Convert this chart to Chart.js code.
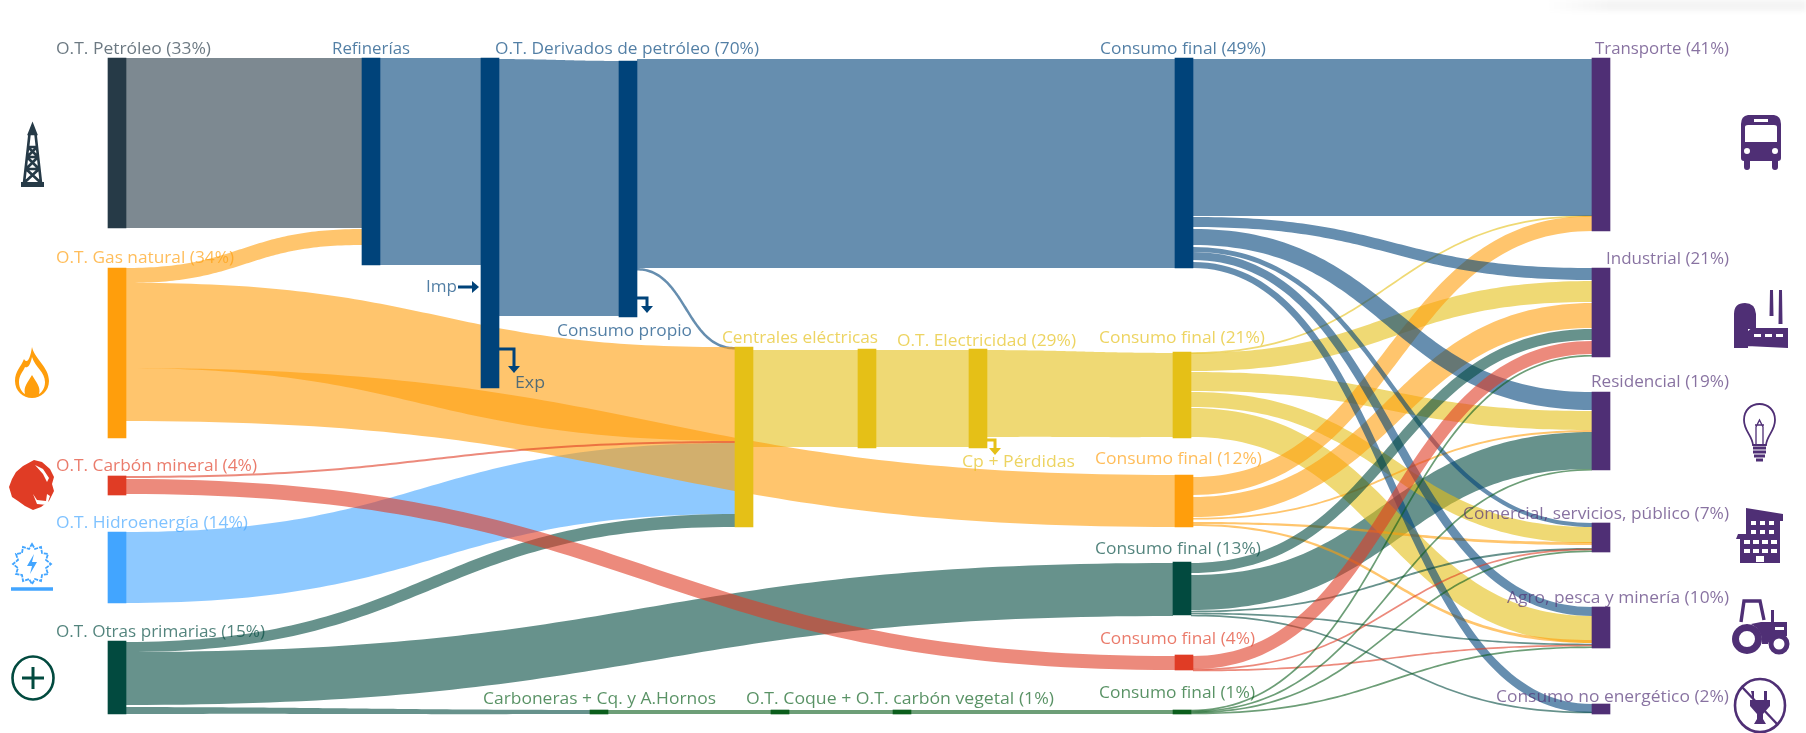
<!DOCTYPE html>
<html lang="es"><head><meta charset="utf-8">
<style>
html,body{margin:0;padding:0;background:#fff;width:1806px;height:733px;overflow:hidden}
#wrap{position:absolute;left:0;top:0;width:1806px;height:733px;filter:blur(.75px)}
canvas{position:absolute;left:0;top:0}
svg{position:absolute;overflow:visible}
#shade{position:absolute;left:1545px;top:0;width:261px;height:11px;background:linear-gradient(90deg,#fff,#f4f4f4 25%,#f4f4f4);filter:blur(2px)}
</style>
<script src="https://cdn.jsdelivr.net/npm/chart.js@4"></script>
</head><body>
<div id="wrap">
<div id="shade"></div>
<canvas id="c" width="1806" height="733"></canvas>
<!-- derrick -->
<svg style="left:21px;top:125px" width="23" height="63" viewBox="0 0 23 63" fill="none" stroke="#263A47" stroke-width="2.6"><path d="M11.5 0L15 9H8Z" fill="#263A47"/><path d="M8.5 9L3 58M14.5 9L20 58M7 22H16M6 32H17M5 44H18M7 22L17 32M16 22L6 32M6 32L18 44M17 32L5 44M5 44L19 57M18 44L4 57"/><rect x="0" y="57" width="23" height="5" fill="#263A47" stroke="none"/></svg>
<!-- flame -->
<svg style="left:15px;top:347px" width="34" height="51" viewBox="0 0 34 51"><path fill="#FF9E0C" fill-rule="evenodd" d="M17 0C19 11 34 20 34 34C34 44 26 51 17 51C8 51 0 44 0 34C0 24 6 20 9 12C12 17 15 13 17 0ZM17 10C15 20 12 21 10 20C8 25 4 28 4 35C4 41 7 45 10 47C8 40 13 35 17 28C21 35 26 40 24 47C27 45 30 41 30 35C30 25 20 20 17 10Z"/></svg>
<!-- coal -->
<svg style="left:9px;top:460px" width="45" height="50" viewBox="0 0 45 50"><path fill="#E03C25" d="M25 0L33 2L41 9L45 17L43 24L45 31L40 41L32 47L24 50L16 46L9 41L3 37L0 27L3 19L7 12L14 6Z"/><path fill="#fff" d="M26 5L34 9L40 18L38 22L34 14ZM24 34L28 40L37 41L38 34L41 36L38 45L28 44Z"/></svg>
<!-- hydro -->
<svg style="left:11px;top:543px" width="42" height="49" viewBox="0 0 42 49" fill="none" stroke="#42A5FF" stroke-width="1.8"><path d="M21 1l3 5 6-2 1 6 6 1-2 6 5 4-5 4 2 6-6 1-1 6-6-2-3 5-3-5-6 2-1-6-6-1 2-6-5-4 5-4-2-6 6-1 1-6 6 2z" stroke-dasharray="4 1"/><path d="M23 11L16 23H21L19 31L26 19H21Z" fill="#42A5FF" stroke="none"/><path d="M0 46H42" stroke-width="3.4"/></svg>
<!-- plus -->
<svg style="left:11px;top:655px" width="44" height="46" viewBox="0 0 44 46" fill="none" stroke="#024A3F" stroke-width="2.6"><ellipse cx="22" cy="23" rx="20.5" ry="21.5"/><path d="M22 12V34M11 23H33" stroke-width="3"/></svg>
<!-- bus -->
<svg style="left:1740px;top:115px" width="42" height="55" viewBox="0 0 42 55"><path fill="#4F2F75" fill-rule="evenodd" d="M8 0H34Q41 1 41 9V43Q41 46 38 46V52Q38 55 35 55Q32 55 32 52V46H10V52Q10 55 7 55Q4 55 4 52V46Q1 46 1 43V9Q1 1 8 0ZM14 4V7H28V4ZM5 12V27H37V12Q37 10 34 10H8Q5 10 5 12ZM7 33A3 3 0 1 0 7 39A3 3 0 1 0 7 33ZM35 33A3 3 0 1 0 35 39A3 3 0 1 0 35 33Z"/></svg>
<!-- factory -->
<svg style="left:1734px;top:290px" width="54" height="59" viewBox="0 0 54 59"><path fill="#4F2F75" d="M0 58V24Q0 13 11 13Q21 13 22 24V39H14V58ZM36 0H39L39.5 26H35.5ZM45 0H48L48.5 34H44.5ZM13 56V42L22 34V38H54V58Z"/><path fill="#fff" d="M24 38Q27 31 30 38ZM20 44h7v3h-7zM31 44h7v3h-7zM42 44h7v3h-7z"/></svg>
<!-- bulb -->
<svg style="left:1743px;top:403px" width="33" height="60" viewBox="0 0 33 60" fill="none" stroke="#4F2F75" stroke-width="1.8"><path d="M10 42C9 32 1 28 1 17C1 7 8 1 16.5 1C25 1 32 7 32 17C32 28 24 32 23 42Z"/><path d="M13 41V24L16.5 17L20 24V41M12 22H21" stroke-width="1.3"/><path d="M10 45H23M10 49H23M11 53H22" stroke-width="3"/><path d="M13 57H20" stroke-width="3"/></svg>
<!-- building -->
<svg style="left:1736px;top:508px" width="48" height="56" viewBox="0 0 48 56"><path fill="#4F2F75" fill-rule="evenodd" d="M2 26H10V0L47 6V13H44V55H4V31H0ZM15 13v4h5v-4zM24 13v4h5v-4zM33 13v4h5v-4zM15 22v4h5v-4zM24 22v4h5v-4zM33 22v4h5v-4zM8 32v4h6v-4zM17 32v4h6v-4zM26 32v4h6v-4zM35 32v4h6v-4zM8 41v4h6v-4zM17 41v4h6v-4zM26 41v4h6v-4zM35 41v4h6v-4zM20 48v6h8v-6z"/></svg>
<!-- tractor -->
<svg style="left:1731px;top:598px" width="59" height="58" viewBox="0 0 59 58"><g fill="none" stroke="#4F2F75"><circle cx="16" cy="41" r="11.5" stroke-width="7"/><circle cx="48" cy="46" r="8" stroke-width="5"/><path d="M10 24L13 3H29L33 22" stroke-width="3.4"/></g><path fill="#4F2F75" d="M30 24H56V38H48Q40 38 37 46H31Q32 32 20 26ZM40 12h3v12h-3z"/><path fill="#fff" d="M44 29h9v3h-9z"/></svg>
<!-- plug crossed -->
<svg style="left:1734px;top:678px" width="52" height="55" viewBox="0 0 52 55" fill="none" stroke="#4F2F75"><ellipse cx="26" cy="27.5" rx="25" ry="26.5" stroke-width="2.6"/><path d="M8 9L44 47" stroke-width="2.4"/><path fill="#4F2F75" stroke="none" d="M17 13h3v9h10v-9h3v9h3v6l-7 8v5l3 5h-12l3-5v-5l-7-8v-6h3z"/></svg>
</div>
<script>
// Node names, and where each node sits on the hidden axes
const nodeNames = ['O.T. Petróleo','O.T. Gas natural','O.T. Carbón mineral','O.T. Hidroenergía','O.T. Otras primarias','Refinerías','O.T. Derivados de petróleo','Consumo propio','Centrales eléctricas','Centro eléctrico','O.T. Electricidad','Consumo final petróleo','Consumo final electricidad','Consumo final gas','Consumo final otras','Consumo final carbón','Consumo final coque','Carboneras + Cq. y A.Hornos','O.T. Coque','O.T. carbón vegetal','Transporte','Industrial','Residencial','Comercial, servicios, público','Agro, pesca y minería','Consumo no energético'];
const nodeStage  = [108,108,108,108,108,362,481,619,735,858,969,1175,1173,1175,1173,1175,1173,590,771,893,1592,1592,1592,1592,1592,1592];
const nodeTop    = [58,268,476,532,641,58,58,61,347,349,349,58,352,475,562,655,710,710,710,710,58,268,392,523,607,704];
const nodeBottom = [228,438,495,603,714,265,388,317,527,448,448,268,438,527,615,670,714,714,714,714,231,357,470,552,648,714];
const nodeColors = ['#263A47','#FF9E0C','#E03C25','#42A5FF','#024A3F','#00437A','#00437A','#00437A','#E5C017','#E5C017','#E5C017','#00437A','#E5C017','#FF9E0C','#024A3F','#E03C25','#0B5E1C','#0B5E1C','#0B5E1C','#0B5E1C','#4F2F75','#4F2F75','#4F2F75','#4F2F75','#4F2F75','#4F2F75'];

// Flows: source node, target node, extent at the source and at the target
const linkFrom = [0,1,1,1,2,2,3,4,4,4,5,6,7,7,8,9,10,17,18,19,11,11,11,11,11,11,12,12,12,12,12,13,13,13,13,13,14,14,14,14,14,15,15,15,16,16,16,16];
const linkTo   = [5,5,8,13,8,15,8,8,14,17,6,7,11,8,9,10,12,18,19,16,20,21,22,23,24,25,20,21,22,23,24,20,21,22,23,24,21,22,23,24,25,21,23,24,21,22,23,24];
const linkSourceTop    = [58,268,283,368,476,479,532,642,652,707,58,59,59,268,350,350,350,710,710,710,59,217,229,247,252,262,352.5,353,372,392,408,477,497,518,522,524,563,575,611,613,615,656,669,670,710,711,712,713];
const linkSourceBottom = [228,283,368,421,478,494,603,652,705,714,265,316,268,270.5,447,447,437,714,714,714,216,227,245,252,260,268,353.5,371,391,407,437,495,517,519.5,524,526,573,610,612,614,616,669,670,671,711,712,713,714];
const linkTargetTop    = [58,229,347,475,441,656,443,514,563,710,58,61,59,347,350,350,353,710,710,710,59,268,392,523,607,704,215.5,281,411,527,616,216,303,430,542,640,329,432,548,644,712,341,549,645,355,469,550.5,646.5];
const linkTargetBottom = [228,245,441,527,443,670,514,527,616,714,265,316,268,349.5,447,447,437,714,714,714,216,280,410,527,616,713,216.5,302,430,543,643,231,328,432,545,643,340,469,550,645,713,354,550,646,356.5,470.5,552,648];

// Text labels
const labelTexts = ['O.T. Petróleo (33%)','Refinerías','O.T. Derivados de petróleo (70%)','Consumo final (49%)','Transporte (41%)','O.T. Gas natural (34%)','Industrial (21%)','Imp','Consumo propio','Exp','Centrales eléctricas','O.T. Electricidad (29%)','Consumo final (21%)','Residencial (19%)','Cp + Pérdidas','Consumo final (12%)','O.T. Carbón mineral (4%)','O.T. Hidroenergía (14%)','Comercial, servicios, público (7%)','Consumo final (13%)','Agro, pesca y minería (10%)','O.T. Otras primarias (15%)','Consumo final (4%)','Carboneras + Cq. y A.Hornos','O.T. Coque + O.T. carbón vegetal (1%)','Consumo final (1%)','Consumo no energético (2%)'];
const labelNode  = [0,5,5,5,20,1,20,5,5,5,8,8,8,20,8,1,2,3,20,4,20,4,2,16,16,16,20];
const labelLeft  = [56,332,495,1100,1595,56,1606,426,557,515,722,897,1099,1591,962,1095,56,56,1463,1095,1507,56,1100,483,746,1099,1496];
const labelRight = [211,410,759,1266,1729,234,1729,457,692,545,878,1076,1265,1729,1075,1262,257,248,1729,1261,1729,265,1255,716,1054,1255,1729];
const labelY     = [49,49,49,49,49,258,259,287,331,383,338,341,338,382,462,459,466,523,514,549,598,632,639,699,699,693,697];

const NODE_WIDTH = 18;
const MIN_RIBBON = 1.7;

function rgba(hex,a){const n=parseInt(hex.slice(1),16);return `rgba(${n>>16},${(n>>8)&255},${n&255},${a})`;}

// paint order of the flows where they cross
function layer(s,t){
  if(s===3) return 0;
  if(s===4) return 1;
  if(s===1) return 2;
  if(s===2) return 3;
  if(s===14&&t===22) return 4;
  if(s===12) return 5;
  if(s===13) return 6;
  if(s===11) return 7;
  if(s===14) return 8;
  if(s===15) return 9;
  if(s===16) return 10;
  return 0;
}

const sankeyPlugin = {
  id:'sankey',
  beforeDatasetsDraw(chart){
    const {ctx,scales:{x,y}} = chart;
    const order = linkFrom.map((_,i)=>i).sort((a,b)=>layer(linkFrom[a],linkTo[a])-layer(linkFrom[b],linkTo[b])||a-b);
    order.forEach(i=>{
      const s = linkFrom[i], t = linkTo[i];
      const x0 = x.getPixelForValue(nodeStage[s]+NODE_WIDTH), x1 = x.getPixelForValue(nodeStage[t]);
      const a0 = y.getPixelForValue(linkSourceTop[i]), a1 = y.getPixelForValue(linkSourceBottom[i]);
      const b0 = y.getPixelForValue(linkTargetTop[i]), b1 = y.getPixelForValue(linkTargetBottom[i]);
      const ya=(a0+a1)/2, yb=(b0+b1)/2, m=(x0+x1)/2;
      const wa=Math.max(a1-a0,MIN_RIBBON), wb=Math.max(b1-b0,MIN_RIBBON);
      // ribbon of constant thickness around the centre curve of the flow
      const upper=[], lower=[], N=80;
      for(let k=0;k<=N;k++){
        const u=k/N, v=1-u;
        const px=v*v*v*x0+3*v*v*u*m+3*v*u*u*m+u*u*u*x1;
        const py=v*v*v*ya+3*v*v*u*ya+3*v*u*u*yb+u*u*u*yb;
        const dx=3*v*v*(m-x0)+3*u*u*(x1-m);
        const dy=6*v*u*(yb-ya);
        const L=Math.hypot(dx,dy)||1;
        const w=(wa+(wb-wa)*u)/2;
        upper.push([px+dy/L*w,py-dx/L*w]);
        lower.push([px-dy/L*w,py+dx/L*w]);
      }
      ctx.beginPath();
      upper.forEach((p,k)=>k?ctx.lineTo(p[0],p[1]):ctx.moveTo(p[0],p[1]));
      lower.reverse().forEach(p=>ctx.lineTo(p[0],p[1]));
      ctx.closePath();
      ctx.fillStyle = rgba(nodeColors[s],.6);
      ctx.fill();
    });
  },
  afterDatasetsDraw(chart){
    const {ctx,scales:{x,y}} = chart;
    // small arrows: Imp, Exp, Consumo propio, Cp + Pérdidas
    const arrow=(pts,color,dir)=>{
      ctx.save();ctx.strokeStyle=color;ctx.fillStyle=color;ctx.lineWidth=3;ctx.beginPath();
      pts.forEach((p,i)=>{const px=x.getPixelForValue(p[0]),py=y.getPixelForValue(p[1]);i?ctx.lineTo(px,py):ctx.moveTo(px,py);});
      ctx.stroke();
      const e=pts[pts.length-1],ex=x.getPixelForValue(e[0]),ey=y.getPixelForValue(e[1]);
      ctx.beginPath();
      if(dir==='r'){ctx.moveTo(ex+7,ey);ctx.lineTo(ex,ey-6);ctx.lineTo(ex,ey+6);}
      else{ctx.moveTo(ex,ey+7);ctx.lineTo(ex-6,ey);ctx.lineTo(ex+6,ey);}
      ctx.closePath();ctx.fill();ctx.restore();
    };
    arrow([[458,287],[472,287]],'#00437A','r');
    arrow([[499,349],[514,349],[514,366]],'#00437A','d');
    arrow([[637,298],[647,298],[647,306]],'#00437A','d');
    arrow([[987,440],[995,440],[995,448]],'#E5C017','d');
    // labels
    ctx.save();
    ctx.font = '16px "Open Sans"';
    ctx.textBaseline='middle';
    labelTexts.forEach((txt,i)=>{
      const lx=x.getPixelForValue(labelLeft[i]), rx=x.getPixelForValue(labelRight[i]), ly=y.getPixelForValue(labelY[i]);
      const w=ctx.measureText(txt).width;
      ctx.save();
      ctx.translate(lx,ly);
      ctx.scale((rx-lx)/w,1);
      ctx.fillStyle=rgba(nodeColors[labelNode[i]],.68);
      ctx.fillText(txt,0,0);
      ctx.restore();
    });
    ctx.restore();
  }
};

new Chart(document.getElementById('c'),{
  type:'bar',
  data:{datasets:[{
    label:'Nodos',
    data:nodeNames.map((n,i)=>({x:nodeStage[i]+NODE_WIDTH/2,y:[nodeTop[i],nodeBottom[i]],name:n})),
    backgroundColor:nodeColors,
    barThickness:NODE_WIDTH,
    borderWidth:0,
    borderSkipped:false
  }]},
  options:{
    responsive:false,animation:false,
    layout:{padding:0},
    plugins:{legend:{display:false},tooltip:{enabled:false},title:{display:false}},
    scales:{
      x:{type:'linear',display:false,min:0,max:1806,offset:false},
      y:{type:'linear',display:false,min:0,max:733,reverse:true}
    }
  },
  plugins:[sankeyPlugin]
});
</script>
</body></html>
